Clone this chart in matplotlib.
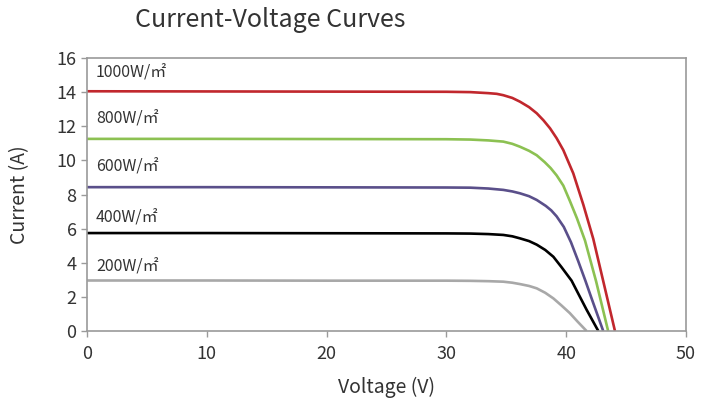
import numpy as np
import matplotlib
matplotlib.use("Agg")
import matplotlib.pyplot as plt

plt.rcParams['font.family'] = ['Noto Sans CJK SC', 'DejaVu Sans']

# voltage (V) / current (A)
v1000 = [0, 10, 20, 30, 32, 33.5, 34.2, 34.75, 35.5, 36.14, 36.9, 37.54, 38.1, 38.65, 39.2, 39.76, 40.59, 41.43, 42.26, 43.2, 44.07]
i1000 = [14.05, 14.04, 14.03, 14.02, 14.0, 13.94, 13.9, 13.82, 13.66, 13.44, 13.12, 12.76, 12.35, 11.88, 11.3, 10.6, 9.24, 7.4, 5.4, 2.6, 0]

v800 = [0, 10, 20, 30, 32, 33.5, 34.75, 35.5, 36.14, 36.9, 37.54, 38.2, 38.7, 39.2, 39.76, 40.32, 40.9, 41.57, 42.5, 43.5]
i800 = [11.26, 11.26, 11.25, 11.24, 11.22, 11.17, 11.1, 10.97, 10.8, 10.56, 10.3, 9.9, 9.55, 9.12, 8.52, 7.6, 6.6, 5.3, 2.9, 0]

v600 = [0, 10, 20, 30, 32, 33.5, 34.75, 35.5, 36.14, 36.9, 37.54, 38.3, 38.75, 39.2, 39.8, 40.4, 41.0, 41.6, 42.2, 43.09]
i600 = [8.43, 8.43, 8.42, 8.41, 8.4, 8.35, 8.27, 8.18, 8.07, 7.9, 7.68, 7.33, 7.07, 6.72, 6.1, 5.2, 4.1, 2.95, 1.75, 0]

v400 = [0, 10, 20, 30, 32, 33.5, 34.75, 35.5, 36.14, 36.9, 37.54, 38.25, 38.93, 39.6, 40.45, 41.0, 41.7, 42.68]
i400 = [5.74, 5.74, 5.73, 5.72, 5.71, 5.68, 5.63, 5.55, 5.43, 5.27, 5.06, 4.75, 4.35, 3.75, 2.95, 2.2, 1.25, 0]

v200 = [0, 10, 20, 30, 32, 33.5, 34.75, 35.5, 36.14, 36.9, 37.54, 38.25, 38.93, 39.6, 40.3, 40.95, 41.7]
i200 = [2.96, 2.96, 2.95, 2.95, 2.94, 2.92, 2.89, 2.83, 2.75, 2.64, 2.5, 2.24, 1.91, 1.5, 1.05, 0.55, 0]

labels = ['1000W/㎡', '800W/㎡', '600W/㎡', '400W/㎡', '200W/㎡']
label_y = [15.15, 12.4, 9.6, 6.65, 3.75]
colors = ['#c1272d', '#8cc152', '#5a4f8a', '#000000', '#a8a8a8']

curves = [(v1000, i1000), (v800, i800), (v600, i600), (v400, i400), (v200, i200)]

fig = plt.figure(figsize=(7.01, 4.05), dpi=100)
ax = fig.add_axes([87/701, 1-331/405, (686-87)/701, (331-58)/405])

for (v, i), c in zip(curves, colors):
    ax.plot(v, i, color=c, lw=1.9, solid_capstyle='butt', solid_joinstyle='round')
for lab, y in zip(labels, label_y):
    ax.text(0.75, y, lab, fontsize=11.5, color='#333333', va='center', ha='left')

ax.set_xlim(0, 50)
ax.set_ylim(0, 16)
ax.set_xticks([0, 10, 20, 30, 40, 50])
ax.set_yticks([0, 2, 4, 6, 8, 10, 12, 14, 16])
for s in ax.spines.values():
    s.set_color('#9a9a9a')
    s.set_linewidth(1.2)
ax.tick_params(colors='#9a9a9a', labelcolor='#333333', labelsize=13, length=4, width=1)
ax.tick_params(axis='x', pad=6)
ax.set_xlabel('Voltage (V)', fontsize=14, color='#333333', labelpad=10)
ax.set_ylabel('Current (A)', fontsize=14, color='#333333', labelpad=19)

fig.text(135/701, 1-20/405, 'Current-Voltage Curves', fontsize=18, color='#333333',
         ha='left', va='center')

fig.savefig('out.png', dpi=100)
